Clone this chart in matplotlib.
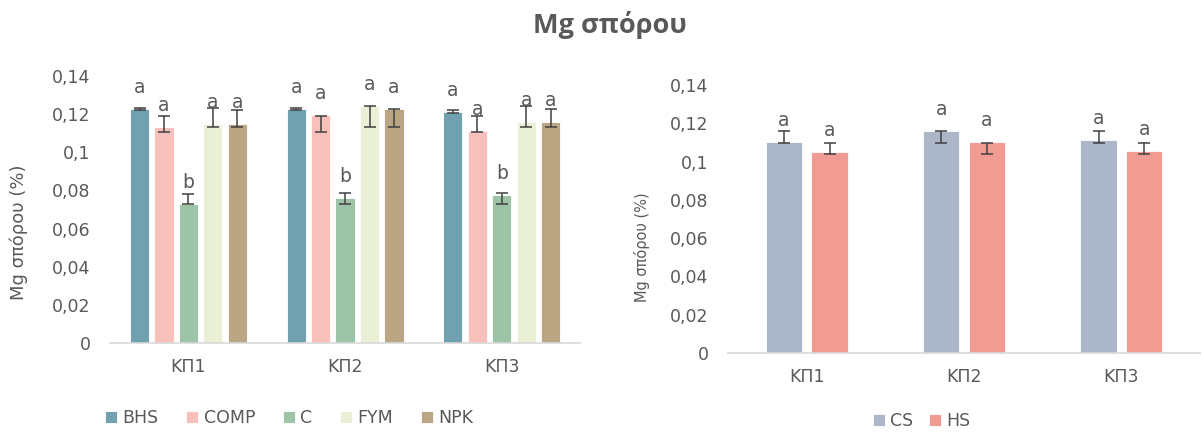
import numpy as np
import matplotlib
matplotlib.use("Agg")
import matplotlib.pyplot as plt
from matplotlib.ticker import FuncFormatter

plt.rcParams['font.family'] = ['DejaVu Sans']

# data
sites = ['ΚΠ1', 'ΚΠ2', 'ΚΠ3']

treatments = ['BHS', 'COMP', 'C', 'FYM', 'NPK']
bhs = [0.1227, 0.1227, 0.1213]
comp = [0.1131, 0.1196, 0.1113]
c = [0.0729, 0.0762, 0.0778]
fym = [0.1148, 0.1245, 0.1161]
npk = [0.1148, 0.1227, 0.1161]

# error bar ends (low, high)
bhs_err = [(0.1220, 0.1232), (0.1220, 0.1232), (0.1208, 0.1222)]
comp_err = [(0.1105, 0.1192), (0.1105, 0.1192), (0.1105, 0.1190)]
c_err = [(0.0729, 0.0781), (0.0729, 0.0785), (0.0729, 0.0785)]
fym_err = [(0.1131, 0.1234), (0.1131, 0.1243), (0.1131, 0.1243)]
npk_err = [(0.1134, 0.1222), (0.1134, 0.1225), (0.1134, 0.1225)]

bhs_let = ['a', 'a', 'a']
comp_let = ['a', 'a', 'a']
c_let = ['b', 'b', 'b']
fym_let = ['a', 'a', 'a']
npk_let = ['a', 'a', 'a']

soils = ['CS', 'HS']
cs = [0.1100, 0.1161, 0.1112]
hs = [0.1048, 0.1100, 0.1056]
cs_err = [(0.1097, 0.1158), (0.1097, 0.1158), (0.1097, 0.1158)]
hs_err = [(0.1039, 0.1098), (0.1039, 0.1098), (0.1039, 0.1098)]
cs_let = ['a', 'a', 'a']
hs_let = ['a', 'a', 'a']

TXT = '#595959'
ERR = '#404040'


def comma(v, pos):
    return '{:g}'.format(v).replace('.', ',')


def draw_group(ax, series, errs, letters, colors, names, pitch, width):
    x = np.arange(len(sites))
    n = len(series)
    for i, (vals, err, let, col, name) in enumerate(zip(series, errs, letters, colors, names)):
        xi = x + (i - (n - 1) / 2) * pitch
        ax.bar(xi, vals, width, color=col, edgecolor='white', linewidth=0.6, label=name, zorder=2)
        lo = np.array([e[0] for e in err])
        hi = np.array([e[1] for e in err])
        ax.errorbar(xi, (lo + hi) / 2, yerr=(hi - lo) / 2, fmt='none', ecolor=ERR,
                    elinewidth=1.1, capsize=4, capthick=1.1, zorder=3)
        for xx, v, l in zip(xi, vals, let):
            ax.text(xx, v + 0.0113, l, ha='center', va='center', fontsize=13.5, color=TXT, zorder=4)
    ax.set_xlim(-0.5, len(sites) - 0.5)
    ax.set_ylim(0, 0.14)
    ax.set_yticks(np.arange(0, 0.1401, 0.02))
    ax.yaxis.set_major_formatter(FuncFormatter(comma))
    ax.set_xticks(x)
    ax.set_xticklabels(sites)
    for s in ['top', 'right', 'left']:
        ax.spines[s].set_visible(False)
    ax.spines['bottom'].set_color('#d9d9d9')
    ax.spines['bottom'].set_linewidth(1.2)
    ax.tick_params(length=0, colors=TXT, labelsize=12.5)
    ax.tick_params(axis='x', pad=11)
    ax.tick_params(axis='y', pad=14)


fig = plt.figure(figsize=(12.04, 4.34), dpi=100)
fig.text(0.507, 0.942, 'Mg σπόρου', ha='center', va='center', fontsize=19.5,
         fontweight='bold', color=TXT, family=['Open Sans', 'DejaVu Sans'])

ax1 = fig.add_axes([0.0914, 0.2097, 0.3904, 0.6152])
draw_group(ax1, [bhs, comp, c, fym, npk],
           [bhs_err, comp_err, c_err, fym_err, npk_err],
           [bhs_let, comp_let, c_let, fym_let, npk_let],
           ['#71a0b0', '#f8c0ba', '#9dc4a7', '#e9f0d5', '#bba684'],
           treatments, 0.156, 0.123)
ax1.set_ylabel('Mg σπόρου (%)', fontsize=13, color=TXT)
ax1.yaxis.set_label_coords(-0.175, 0.416)
ax1.legend(loc='center', bbox_to_anchor=(0.381, -0.28), ncol=5, frameon=False,
           fontsize=12.5, labelcolor=TXT, handlelength=0.7, handleheight=0.7,
           handletextpad=0.3, columnspacing=1.6)

ax2 = fig.add_axes([0.6047, 0.1866, 0.392, 0.6175])
draw_group(ax2, [cs, hs], [cs_err, hs_err], [cs_let, hs_let],
           ['#abb6c9', '#f29b92'], soils, 0.29, 0.231)
ax2.set_ylabel('Mg σπόρου (%)', fontsize=10.5, color=TXT)
ax2.yaxis.set_label_coords(-0.165, 0.395)
ax2.legend(loc='center', bbox_to_anchor=(0.41, -0.255), ncol=2, frameon=False,
           fontsize=12.5, labelcolor=TXT, handlelength=0.7, handleheight=0.7,
           handletextpad=0.3, columnspacing=0.9)

fig.savefig('out.png', dpi=100)
